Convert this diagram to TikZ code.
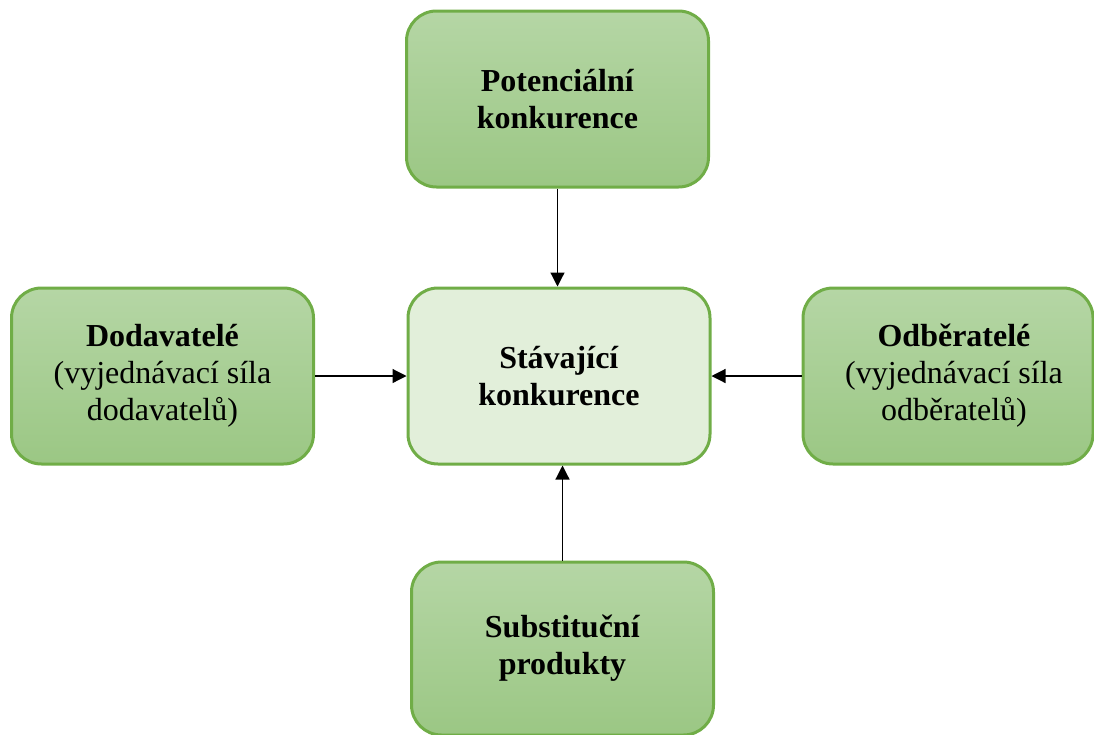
\documentclass[tikz,border=0pt]{standalone}
\usepackage{fontspec}
\setmainfont{Liberation Serif}
\usetikzlibrary{arrows.meta}
\definecolor{bordergreen}{HTML}{70AD47}
\definecolor{topgreen}{HTML}{B5D6A5}
\definecolor{botgreen}{HTML}{9BC784}
\definecolor{palegreen}{HTML}{E2EFDA}
\tikzset{
  force/.style={draw=bordergreen, line width=3pt, rounded corners=30pt,
    top color=topgreen, bottom color=botgreen,
    minimum width=302pt, minimum height=176pt, align=center,
    font=\fontsize{32}{37}\selectfont, text=black, inner sep=0pt},
  core/.style={force, top color=palegreen, bottom color=palegreen},
  push/.style={draw=black, line width=1.2pt, -{Triangle[length=14pt,width=14pt]}}
}
\newcommand{\rsh}{\hspace*{12pt}}
\begin{document}
\begin{tikzpicture}[x=1pt,y=-1pt]
\useasboundingbox (0,0) rectangle (1094,734);
\clip (0,0) rectangle (1094,734);
\node[force] (top) at (557.5,99) {\textbf{Potenciální}\\\textbf{konkurence}};
\node[core] (mid) at (559,376) {\textbf{Stávající}\\\textbf{konkurence}};
\node[force] (left) at (162.5,376) {\textbf{Dodavatelé}\\(vyjednávací síla\\dodavatelů)};
\node[force, minimum width=290pt] (right) at (948,376) {\rsh\textbf{Odběratelé}\\\rsh(vyjednávací síla\\\rsh odběratelů)};
\node[force, minimum height=173pt] (bot) at (562.5,648.5) {\textbf{Substituční}\\\textbf{produkty}};
\draw[push] (top.south) -- (top.south |- mid.north);
\draw[push] (bot.north) -- (bot.north |- mid.south);
\draw[push] (left.east) -- (mid.west);
\draw[push] (right.west) -- (mid.east);
\end{tikzpicture}
\end{document}
